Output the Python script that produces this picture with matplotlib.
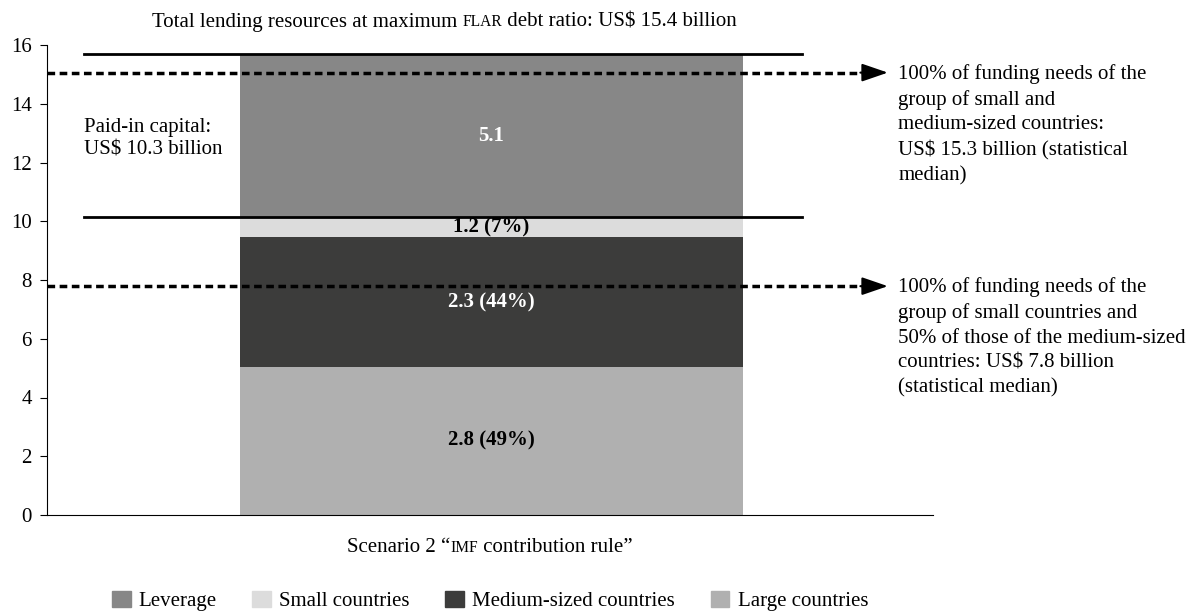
import matplotlib.pyplot as plt
import numpy as np
from matplotlib.patches import Patch
from matplotlib.offsetbox import TextArea, HPacker, AnnotationBbox
import matplotlib.transforms as mtransforms

plt.rcParams['font.family'] = ['Liberation Serif', 'DejaVu Serif']

# stacked segments, bottom to top
segments = ["Large countries", "Medium-sized countries", "Small countries", "Leverage"]
heights = [5.05, 4.4, 0.68, 5.55]
seg_labels = ["2.8 (49%)", "2.3 (44%)", "1.2 (7%)", "5.1"]
seg_colors = ["#b0b0b0", "#3c3c3b", "#dcdcdc", "#878787"]
label_colors = ["black", "white", "black", "white"]

paid_in_top = 10.13
total_top = 15.68
needs_levels = [15.06, 7.79]
needs_texts = [
    "100% of funding needs of the\ngroup of small and\nmedium-sized countries:\nUS$ 15.3 billion (statistical\nmedian)",
    "100% of funding needs of the\ngroup of small countries and\n50% of those of the medium-sized\ncountries: US$ 7.8 billion\n(statistical median)",
]
legend_order = ["Leverage", "Small countries", "Medium-sized countries", "Large countries"]

fs = 15
sc = 11.2

fig = plt.figure(figsize=(11.96, 6.11), dpi=100)
ax = fig.add_axes([47 / 1196, 1 - 515 / 611, 886 / 1196, 470 / 611])

bottom = 0
for h, lab, c, tc in zip(heights, seg_labels, seg_colors, label_colors):
    ax.bar(0, h, width=1, bottom=bottom, color=c, zorder=1)
    ax.text(0, bottom + h / 2, lab, ha="center", va="center", color=tc,
            fontsize=fs, fontweight="bold", zorder=4)
    bottom += h

ax.set_xlim(-0.884, 0.878)
ax.set_ylim(0, 16)
ax.set_yticks(np.arange(0, 17, 2))
ax.tick_params(axis="y", labelsize=fs, length=5, pad=6, direction="out")
ax.set_xticks([])
for s in ["top", "right"]:
    ax.spines[s].set_visible(False)

trans = mtransforms.blended_transform_factory(ax.transAxes, ax.transData)

# paid-in capital bracket lines
for y in [paid_in_top, total_top]:
    ax.plot([0.042, 0.852], [y, y], color="black", lw=2, transform=trans,
            clip_on=False, zorder=3)
ax.text(0.042, 12.8, "Paid-in capital:\nUS$ 10.3 billion", transform=trans,
        ha="left", va="center", fontsize=fs, linespacing=1.27)

# funding-need arrows
for y, txt in zip(needs_levels, needs_texts):
    ax.plot([0, 0.92], [y, y], color="black", lw=2.5, ls=(0, (2.2, 1.3)),
            transform=trans, clip_on=False, zorder=3)
    ax.annotate("", xy=(0.949, y), xytext=(0.918, y), xycoords=trans,
                textcoords=trans,
                arrowprops=dict(arrowstyle="-|>,head_length=1.6,head_width=0.55",
                                color="black", lw=1.5, shrinkA=0, shrinkB=0),
                annotation_clip=False)
    ax.text(0.961, y + 0.3, txt, transform=trans, ha="left", va="top", fontsize=fs,
            linespacing=1.41)


def smallcaps_text(parts, x, y):
    boxes = []
    for t, small in parts:
        boxes.append(TextArea(t, textprops=dict(fontsize=sc if small else fs,
                                                family=['Liberation Serif'])))
    pack = HPacker(children=boxes, align="baseline", pad=0, sep=0)
    ab = AnnotationBbox(pack, (x, y), xycoords="figure pixels",
                        box_alignment=(0.5, 0.5), frameon=False)
    fig.add_artist(ab)


smallcaps_text([("Total lending resources at maximum ", False), ("FLAR", True),
                (" debt ratio: US$ 15.4 billion", False)], 444, 611 - 22)
smallcaps_text([("Scenario 2 \u201c", False), ("IMF", True),
                (" contribution rule\u201d", False)], 490, 611 - 548)

handles = [Patch(color=seg_colors[segments.index(n)], label=n) for n in legend_order]
fig.legend(handles=handles, loc="center", bbox_to_anchor=(490 / 1196, 1 - 601 / 611),
           ncol=4, frameon=False, fontsize=fs, handlelength=0.9, handleheight=0.85,
           columnspacing=1.7, handletextpad=0.4)

fig.savefig("out.png", dpi=100)
